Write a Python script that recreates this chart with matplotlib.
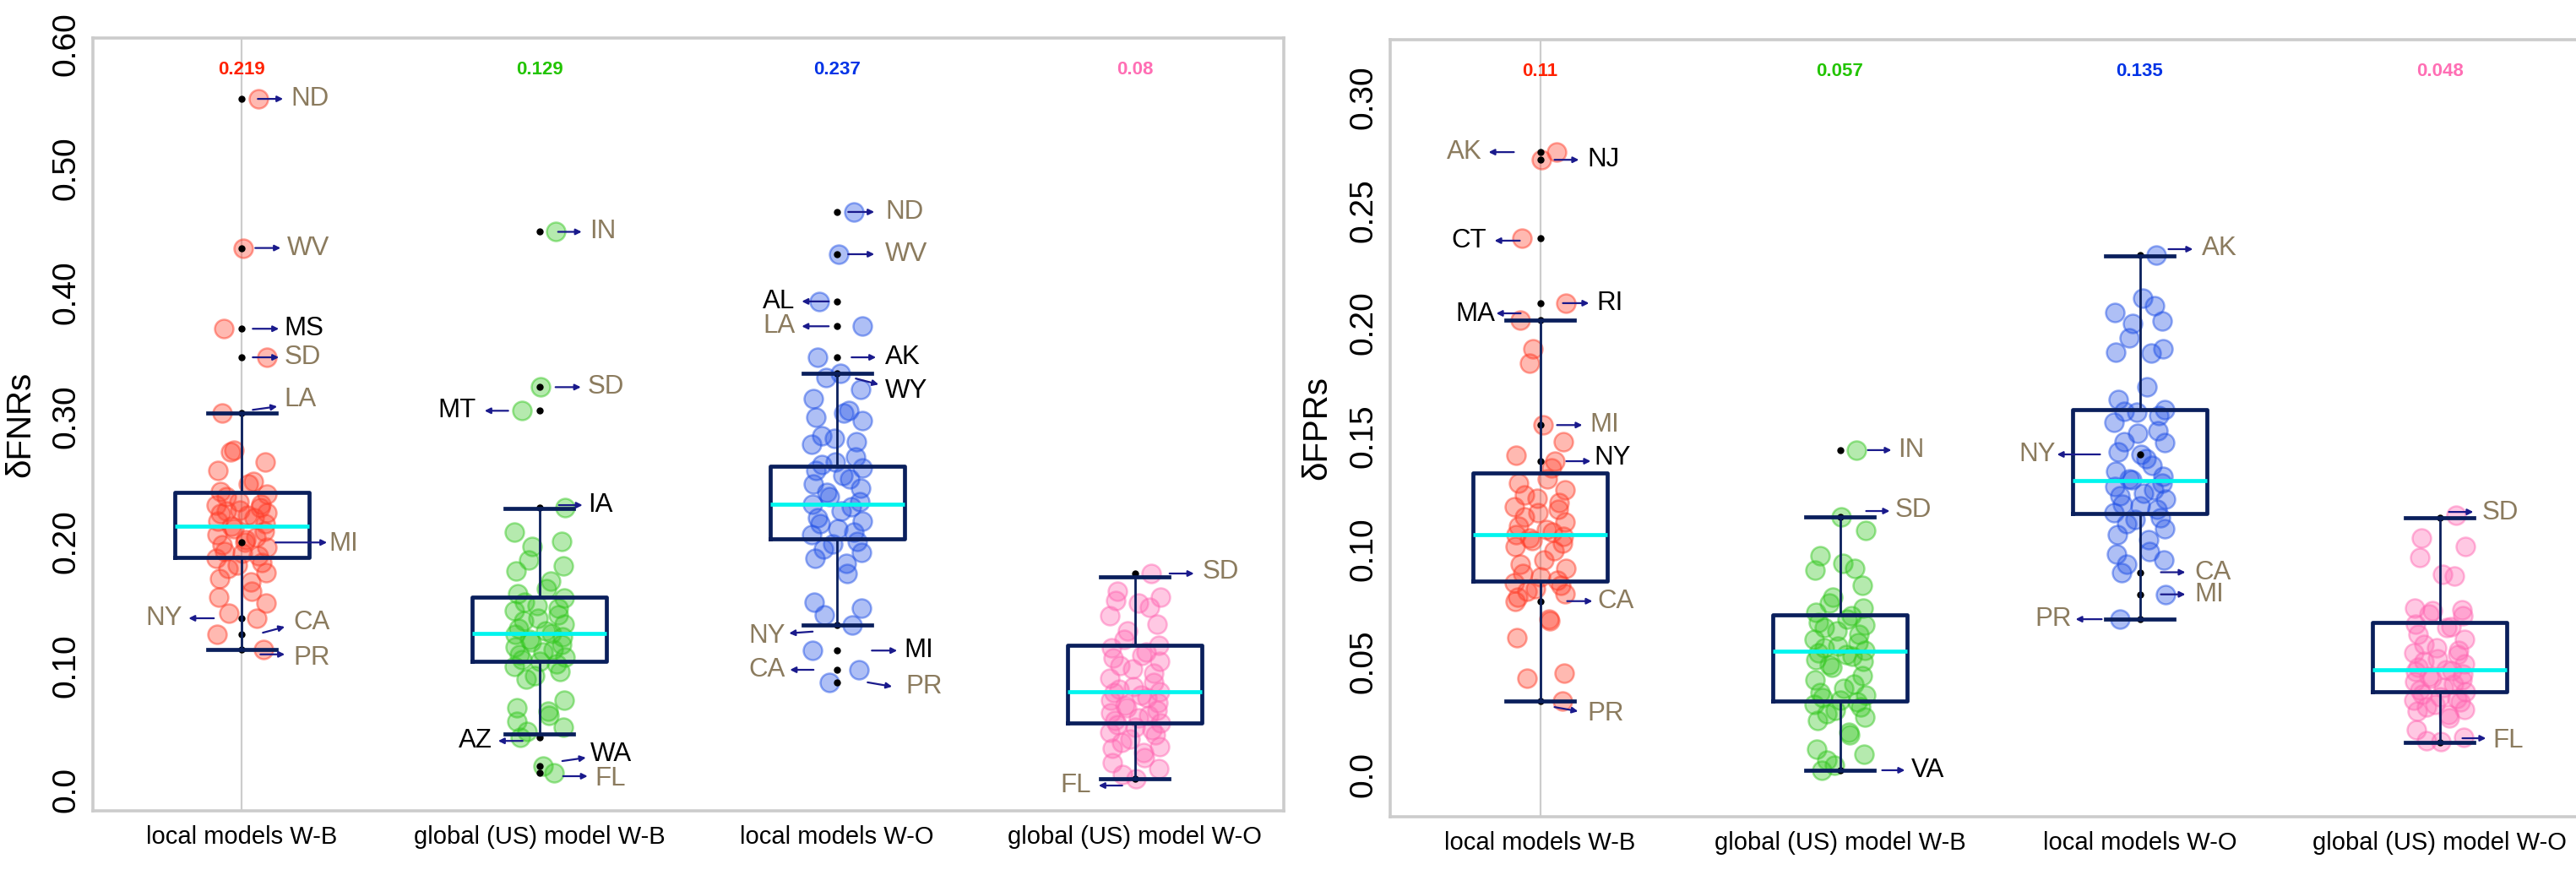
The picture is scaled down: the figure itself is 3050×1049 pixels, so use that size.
import matplotlib
matplotlib.use("Agg")
import matplotlib.pyplot as plt
from matplotlib import font_manager
from matplotlib.transforms import ScaledTranslation
import numpy as np

# categories and summary numbers
categories = ["local models W-B", "global (US) model W-B", "local models W-O", "global (US) model W-O"]
means_fnr = ["0.219", "0.129", "0.237", "0.08"]
means_fpr = ["0.11", "0.057", "0.135", "0.048"]

# per-state values, delta FNR
fnr_local_wb = [0.556, 0.436, 0.371, 0.348, 0.303, 0.199, 0.138, 0.125, 0.113,
                0.273, 0.272, 0.264, 0.257, 0.248, 0.246, 0.240, 0.238, 0.236, 0.232,
                0.230, 0.229, 0.227, 0.225, 0.224, 0.223, 0.222, 0.221, 0.219, 0.216,
                0.214, 0.212, 0.210, 0.208, 0.205, 0.203, 0.201, 0.197, 0.195, 0.192,
                0.190, 0.188, 0.186, 0.183, 0.181, 0.178, 0.175, 0.170, 0.167, 0.160,
                0.155, 0.150, 0.142]
fnr_global_wb = [0.449, 0.324, 0.305, 0.227, 0.042, 0.019, 0.0136,
                 0.207, 0.200, 0.196, 0.185, 0.180, 0.176, 0.168, 0.162, 0.158, 0.154,
                 0.151, 0.148, 0.146, 0.144, 0.141, 0.138, 0.136, 0.133, 0.130,
                 0.128, 0.126, 0.125, 0.123, 0.121, 0.119, 0.117, 0.115, 0.113,
                 0.111, 0.109, 0.107, 0.105, 0.103, 0.101, 0.099, 0.095, 0.092, 0.089,
                 0.072, 0.066, 0.063, 0.060, 0.055, 0.050, 0.047]
fnr_local_wo = [0.465, 0.431, 0.393, 0.373, 0.348, 0.335, 0.1327, 0.112, 0.0965, 0.0864,
                0.332, 0.322, 0.315, 0.305, 0.303, 0.300, 0.297, 0.285, 0.283, 0.280,
                0.278, 0.268, 0.264, 0.262, 0.259, 0.257, 0.253, 0.250, 0.246, 0.243,
                0.239, 0.236, 0.232, 0.230, 0.228, 0.224, 0.219, 0.216, 0.214, 0.210,
                0.207, 0.205, 0.200, 0.198, 0.194, 0.191, 0.186, 0.182, 0.174, 0.151,
                0.146, 0.141]
fnr_global_wo = [0.174, 0.0088,
                 0.160, 0.155, 0.152, 0.150, 0.147, 0.140, 0.133, 0.128, 0.121, 0.116,
                 0.114, 0.111, 0.108, 0.106, 0.103, 0.100, 0.097, 0.094, 0.090, 0.086,
                 0.083, 0.081, 0.079, 0.078, 0.076, 0.074, 0.072, 0.070, 0.068, 0.066,
                 0.064, 0.062, 0.060, 0.058, 0.056, 0.054, 0.052, 0.050, 0.048, 0.046,
                 0.044, 0.041, 0.038, 0.035, 0.033, 0.030, 0.026, 0.022, 0.017, 0.012]

# per-state values, delta FPR
fpr_local_wb = [0.2757, 0.2723, 0.2376, 0.2088, 0.2013, 0.1548, 0.1388, 0.0768, 0.0325,
                0.1885, 0.1822, 0.1474, 0.1414, 0.1360, 0.1311, 0.1290, 0.1261, 0.1240, 0.1223,
                0.1205, 0.1186, 0.1175, 0.1161, 0.1140, 0.1120, 0.1099, 0.1085, 0.1074, 0.1062,
                0.1055, 0.1049, 0.1035, 0.1024, 0.1012, 0.0990, 0.0949, 0.0930, 0.0912,
                0.0890, 0.0874, 0.0860, 0.0850, 0.0837, 0.0825, 0.0812, 0.0800, 0.0787,
                0.0687, 0.0680, 0.0606, 0.0450, 0.0425]
fpr_global_wb = [0.1437, 0.1141, 0.0019,
                 0.1080, 0.0968, 0.0937, 0.0912, 0.0905, 0.0837, 0.0787, 0.0760, 0.0737,
                 0.0720, 0.0705, 0.0690, 0.0675, 0.0662, 0.0650, 0.0637, 0.0620, 0.0600,
                 0.0585, 0.0570, 0.0562, 0.0550, 0.0540, 0.0530, 0.0525, 0.0510, 0.0500, 0.0487,
                 0.0475, 0.0437, 0.0420, 0.0400, 0.0380, 0.0362, 0.0350, 0.0340, 0.0330,
                 0.0320, 0.0312, 0.0300, 0.0285, 0.0270, 0.0255, 0.0238, 0.0188, 0.0175,
                 0.0113, 0.0090, 0.0063, 0.0040]
fpr_local_wo = [0.2301, 0.1418, 0.0896, 0.0798, 0.0688,
                0.2109, 0.2078, 0.2047, 0.2009, 0.1997, 0.1934, 0.1884, 0.1872, 0.1866, 0.1716,
                0.1660, 0.1615, 0.1610, 0.1605, 0.1590, 0.1560, 0.1523, 0.1510, 0.1473, 0.1470,
                0.1430, 0.1398, 0.1370, 0.1342, 0.1320, 0.1311, 0.1305, 0.1290, 0.1274, 0.1260,
                0.1245, 0.1236, 0.1220, 0.1199, 0.1190, 0.1174, 0.1160, 0.1137, 0.1130,
                0.1112, 0.1087, 0.1062, 0.1040, 0.0987, 0.0975, 0.0949, 0.0930]
fpr_global_wo = [0.1149, 0.0146,
                 0.1049, 0.1012, 0.0962, 0.0887, 0.0880, 0.0737, 0.0730, 0.0725, 0.0712, 0.0705,
                 0.0665, 0.0655, 0.0650, 0.0620, 0.0600, 0.0575, 0.0560, 0.0550, 0.0540, 0.0530,
                 0.0512, 0.0500, 0.0490, 0.0475, 0.0465, 0.0462, 0.0455, 0.0445, 0.0435, 0.0425,
                 0.0420, 0.0410, 0.0400, 0.0387, 0.0375, 0.0365, 0.0355, 0.0345, 0.0337, 0.0330,
                 0.0320, 0.0312, 0.0300, 0.0290, 0.0280, 0.0265, 0.0250, 0.0200, 0.0163, 0.0150]

# box statistics
fnr_q1 = [0.187, 0.103, 0.202, 0.0537]
fnr_med = [0.212, 0.126, 0.230, 0.0789]
fnr_q3 = [0.239, 0.155, 0.2605, 0.1163]
fnr_lo = [0.113, 0.045, 0.1327, 0.0088]
fnr_hi = [0.303, 0.2265, 0.335, 0.1714]
fpr_q1 = [0.0857, 0.0325, 0.1156, 0.0367]
fpr_med = [0.1062, 0.0546, 0.1302, 0.0464]
fpr_q3 = [0.1336, 0.0707, 0.1616, 0.0673]
fpr_lo = [0.0325, 0.0019, 0.0688, 0.0142]
fpr_hi = [0.2013, 0.1141, 0.2297, 0.1137]

# labelled states: (group, state, value)
fnr_states = [(0, "ND", 0.556), (0, "WV", 0.436), (0, "MS", 0.371), (0, "SD", 0.348),
              (0, "LA", 0.303), (0, "MI", 0.199), (0, "NY", 0.138), (0, "CA", 0.125),
              (0, "PR", 0.113),
              (1, "IN", 0.449), (1, "SD", 0.324), (1, "MT", 0.305), (1, "IA", 0.227),
              (1, "AZ", 0.042), (1, "WA", 0.019), (1, "FL", 0.0136),
              (2, "ND", 0.465), (2, "WV", 0.431), (2, "AL", 0.393), (2, "LA", 0.373),
              (2, "AK", 0.348), (2, "WY", 0.335), (2, "NY", 0.1327), (2, "MI", 0.112),
              (2, "CA", 0.0965), (2, "PR", 0.0864),
              (3, "SD", 0.174), (3, "FL", 0.0088)]
fpr_states = [(0, "AK", 0.2757), (0, "NJ", 0.2723), (0, "CT", 0.2376), (0, "RI", 0.2088),
              (0, "MA", 0.2013), (0, "MI", 0.1548), (0, "NY", 0.1388), (0, "CA", 0.0768),
              (0, "PR", 0.0325),
              (1, "IN", 0.1437), (1, "SD", 0.1141), (1, "VA", 0.0019),
              (2, "AK", 0.2301), (2, "NY", 0.1418), (2, "CA", 0.0896), (2, "MI", 0.0798),
              (2, "PR", 0.0688),
              (3, "SD", 0.1137), (3, "FL", 0.0142)]

# label layout in pixels: black text?, arrow start (dx,dy), arrow end (dx,dy), text (dx,dy); dy down
fnr_layout = [(0, 19, 0, 49, 0, 58, 0), (0, 16, 0, 46, 0, 54, 0), (1, 13, 0, 44, 0, 50, 0),
              (0, 13, 0, 44, 0, 50, 0), (0, 13, -4, 42, -8, 50, -16), (0, 40, 0, 101, 0, 103, 2),
              (0, -33, 0, -63, 0, -70, 0), (0, 25, -2, 51, -9, 61, -14), (0, 22, 6, 51, 6, 61, 10),
              (0, 22, 0, 50, 0, 59, 0), (0, 19, 0, 49, 0, 57, 0), (1, -37, 0, -65, 0, -75, 0),
              (1, 23, -3, 51, -3, 57, -3), (1, -20, 4, -49, 4, -56, 4), (1, 27, -6, 55, -10, 60, -14),
              (0, 28, 4, 57, 4, 66, 7),
              (0, 13, 0, 44, 0, 57, 0), (0, 13, 0, 44, 0, 57, 0), (1, -10, 0, -42, 0, -50, 0),
              (0, -10, 0, -42, 0, -50, 0), (1, 17, 0, 46, 0, 57, 0), (1, 22, 6, 49, 13, 57, 21),
              (0, -29, 8, -57, 10, -61, 13), (1, 41, 0, 71, 0, 79, 0), (0, -28, 0, -56, 0, -61, 0),
              (0, 36, 0, 65, 5, 81, 5),
              (0, 41, 0, 70, 0, 80, -2), (0, -15, 8, -43, 8, -52, 8)]
fpr_layout = [(0, -31, 0, -61, 0, -69, 0), (1, 17, 0, 46, 0, 56, 0), (1, -24, 3, -54, 3, -63, 3),
              (1, 27, 0, 58, 0, 67, 0), (1, -23, -8, -52, -8, -53, -7), (0, 20, 0, 50, 0, 59, 0),
              (1, 31, 0, 60, 0, 64, -4), (0, 32, 0, 62, 0, 68, 0), (0, 17, 7, 45, 12, 56, 15),
              (0, 33, 0, 61, 0, 69, 0), (0, 31, -7, 59, -7, 65, -8), (1, 50, 0, 77, 0, 84, 0),
              (0, 34, -7, 63, -7, 73, -8), (0, -47, 0, -98, 0, -100, 0), (0, 25, 0, 54, 0, 65, 0),
              (0, 25, 0, 54, 0, 65, 0), (0, -45, 0, -76, 0, -81, 0),
              (0, 11, -7, 40, -7, 50, -6), (0, 27, -5, 55, -5, 63, -2)]

point_colors = [(1.0, 0.24, 0.16), (0.2, 0.78, 0.12), (0.12, 0.31, 0.9), (1.0, 0.41, 0.7)]
mean_colors = ["#ff2200", "#22c400", "#0033e6", "#ff6eb4"]
navy = "#0a1f5c"
tan = "#8b7b5e"
arrow_col = "#1a1a8c"

names = {f.name for f in font_manager.fontManager.ttflist}
if "Liberation Sans Narrow" in names:
    narrow, lab_size, mean_size = "Liberation Sans Narrow", 24, 18
else:
    narrow, lab_size, mean_size = "Liberation Sans", 22.5, 16

plt.rcParams['font.family'] = ['Liberation Sans', 'DejaVu Sans']

fig = plt.figure(figsize=(30.5, 10.49), dpi=100)


def jitter(n):
    # fixed spread pattern so the circles don't sit on one line
    k = np.arange(n)
    return 0.085 * np.sin(k * 2.399 + 0.7)


def panel(rect, groups, q1, med, q3, lo, hi, ylim, ticks, ticklabels, ylabel, ylabel_x,
          means, states, layout):
    ax = fig.add_axes(rect)
    ax.set_xlim(-0.5, 3.5)
    ax.set_ylim(*ylim)
    ax.axvline(0, color="#cccccc", lw=1.6, zorder=0)
    for i, vals in enumerate(groups):
        vals = np.array(vals)
        x = i + jitter(len(vals))
        fc = point_colors[i] + (0.36,)
        ec = point_colors[i] + (0.48,)
        ax.scatter(x, vals, s=250, facecolor=fc, edgecolor=ec, linewidth=1.8, zorder=2)
    stats = [dict(q1=q1[i], med=med[i], q3=q3[i], whislo=lo[i], whishi=hi[i], fliers=[])
             for i in range(4)]
    ax.bxp(stats, positions=range(4), widths=0.45, capwidths=0.23, showfliers=False,
           boxprops=dict(color=navy, lw=3.4), whiskerprops=dict(color=navy, lw=2.0),
           capprops=dict(color=navy, lw=3.4), medianprops=dict(color="#00f5ee", lw=3.4),
           zorder=3)
    for i, m in enumerate(means):
        ax.text(i, 0.959, m, transform=ax.get_xaxis_transform(), ha="center", va="center",
                color=mean_colors[i], fontsize=mean_size, fontweight="bold", family=narrow)
    for (g, name, v), (blk, ax0, ay0, ax1, ay1, tx, ty) in zip(states, layout):
        ax.plot([g], [v], "o", color="black", ms=5, zorder=2.5)
        t0 = ax.transData + ScaledTranslation(ax0 / 100, -ay0 / 100, fig.dpi_scale_trans)
        t1 = ax.transData + ScaledTranslation(ax1 / 100, -ay1 / 100, fig.dpi_scale_trans)
        tt = ax.transData + ScaledTranslation(tx / 100, -ty / 100, fig.dpi_scale_trans)
        ax.annotate("", xy=(g, v), xycoords=t1, xytext=(g, v), textcoords=t0,
                    arrowprops=dict(arrowstyle="-|>", color=arrow_col, lw=1.6,
                                    mutation_scale=10, shrinkA=0, shrinkB=0), zorder=5)
        ax.text(g, v, name, transform=tt, ha="left" if tx > 0 else "right", va="center",
                color="black" if blk else tan, fontsize=lab_size, family=narrow, zorder=5)
    ax.set_xticks(range(4))
    ax.set_xticklabels(categories, fontsize=21)
    ax.set_yticks(ticks)
    ax.set_yticklabels(ticklabels, fontsize=28, rotation=90, va="center")
    ax.tick_params(length=0)
    ax.tick_params(axis="y", pad=10)
    ax.tick_params(axis="x", pad=12)
    for s in ax.spines.values():
        s.set_color("#cccccc")
        s.set_linewidth(2.6)
    fig.text(ylabel_x, rect[1] + rect[3] / 2, ylabel, rotation=90, ha="center", va="center",
             fontsize=29)
    return ax


panel([110 / 3050, 89 / 1049, 1410 / 3050, 915 / 1049],
      [fnr_local_wb, fnr_global_wb, fnr_local_wo, fnr_global_wo],
      fnr_q1, fnr_med, fnr_q3, fnr_lo, fnr_hi, (-0.017, 0.605),
      [0, 0.1, 0.2, 0.3, 0.4, 0.5, 0.6], ["0.0", "0.10", "0.20", "0.30", "0.40", "0.50", "0.60"],
      "δFNRs", 24 / 3050, means_fnr, fnr_states, fnr_layout)

panel([1646 / 3050, 82 / 1049, 1420 / 3050, 920 / 1049],
      [fpr_local_wb, fpr_global_wb, fpr_local_wo, fpr_global_wo],
      fpr_q1, fpr_med, fpr_q3, fpr_lo, fpr_hi, (-0.0187, 0.3255),
      [0, 0.05, 0.1, 0.15, 0.2, 0.25, 0.3], ["0.0", "0.05", "0.10", "0.15", "0.20", "0.25", "0.30"],
      "δFPRs", 1559 / 3050, means_fpr, fpr_states, fpr_layout)

fig.savefig("out.png", dpi=100)
